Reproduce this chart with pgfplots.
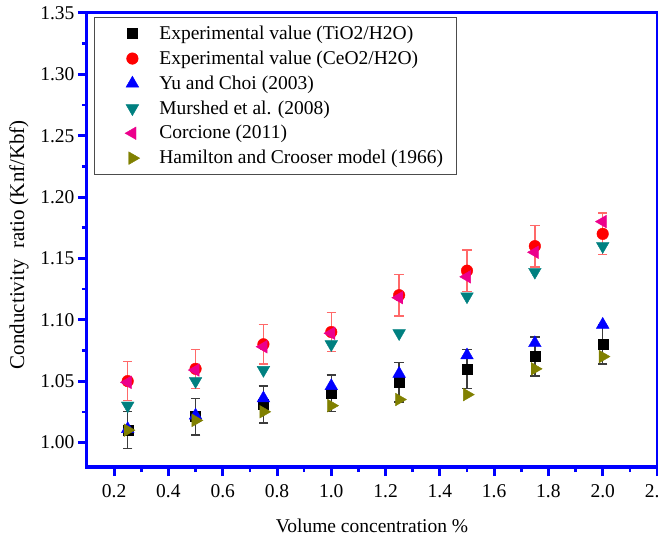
\documentclass[border=0pt]{standalone}
\usepackage{fontspec}
\setmainfont{Liberation Serif}
\usepackage{pgfplots}
\pgfplotsset{compat=1.18}

\definecolor{axisblue}{RGB}{0,0,255}
\definecolor{mteal}{RGB}{0,128,128}
\definecolor{molive}{RGB}{128,128,0}
\definecolor{errred}{RGB}{255,105,105}
\definecolor{errgray}{RGB}{60,60,60}

% measured thermal conductivity ratios: x, ratio, error
\pgfplotstableread{
x     y      e
0.25  1.010  0.015
0.50  1.021  0.015
0.75  1.031  0.015
1.00  1.040  0.015
1.25  1.049  0.016
1.50  1.060  0.016
1.75  1.070  0.016
2.00  1.080  0.016
}\tiotable
\pgfplotstableread{
x     y      e
0.25  1.050  0.016
0.50  1.060  0.016
0.75  1.080  0.016
1.00  1.090  0.016
1.25  1.120  0.017
1.50  1.140  0.017
1.75  1.160  0.017
2.00  1.170  0.017
}\ceotable
% model predictions
\pgfplotstableread{
x     yu     mu     co     ha
0.25  1.011  1.030  1.049  1.010
0.50  1.022  1.050  1.059  1.018
0.75  1.036  1.059  1.078  1.025
1.00  1.046  1.080  1.089  1.030
1.25  1.056  1.089  1.118  1.035
1.50  1.071  1.119  1.135  1.039
1.75  1.081  1.139  1.155  1.060
2.00  1.096  1.160  1.180  1.070
}\modeltable

\pgfplotsset{
  mk/.style={only marks,
    legend image code/.code={\path[draw=none] (0bp,0bp) -- (52bp,0bp);
      \path[##1, draw=none] plot[only marks] coordinates {(25bp,0bp)};}},
}

\begin{document}
\begin{tikzpicture}
\begin{axis}[
  scale only axis, width=570bp, height=454bp,
  xmin=0.1, xmax=2.2, ymin=0.98, ymax=1.35,
  font=\fontsize{19.5bp}{23bp}\selectfont,
  axis line style={axisblue, line width=3bp},
  tick align=outside, tick pos=left,
  major tick length=9bp, minor tick length=5bp,
  major tick style={axisblue, line width=3bp},
  minor tick style={axisblue, line width=2.5bp},
  xtick={0.2,0.4,0.6,0.8,1.0,1.2,1.4,1.6,1.8,2.0,2.2},
  ytick={1.00,1.05,1.10,1.15,1.20,1.25,1.30,1.35},
  minor x tick num=1, minor y tick num=1,
  /pgf/number format/assume math mode=true,
  xticklabel style={yshift=-5bp, /pgf/number format/.cd, fixed, fixed zerofill, precision=1},
  yticklabel style={/pgf/number format/.cd, fixed, fixed zerofill, precision=2},
  xlabel={Volume concentration \%},
  ylabel={Conductivity\ \ ratio (Knf/Kbf)},
  xlabel style={at={(axis description cs:0.5,-0.1289)}, anchor=center},
  ylabel style={at={(axis description cs:-0.1193,0.49)}, anchor=center,
    font=\fontsize{21bp}{24bp}\selectfont},
  legend cell align=left,
  legend style={draw=black!70, line width=0.8bp, fill=white,
    at={(axis description cs:0,1)}, anchor=north west,
    xshift=7bp, yshift=-4bp,
    inner xsep=13bp, inner ysep=6.5bp, row sep=5.4bp,
    nodes={inner sep=0bp, text height=15.5bp, text depth=4bp}},
]
\addplot[mk, mark=square*, mark size=5bp, black,
  mark options={fill=black, draw=black, line width=0.4bp},
  error bars/.cd, y dir=both, y explicit,
  error bar style={errgray, line width=1.4bp},
  error mark options={errgray, line width=1.4bp, mark size=4.7bp, rotate=90}]
  table[x=x, y=y, y error=e] {\tiotable};
\addlegendentry{Experimental value (TiO2/H2O)}

\addplot[mk, mark=*, mark size=5.8bp, red,
  mark options={fill=red, draw=red, line width=0.4bp},
  error bars/.cd, y dir=both, y explicit,
  error bar style={errred, line width=1.4bp},
  error mark options={errred, line width=1.4bp, mark size=4.7bp, rotate=90}]
  table[x=x, y=y, y error=e] {\ceotable};
\addlegendentry{Experimental value (CeO2/H2O)}

\addplot[mk, mark=triangle*, mark size=7.3bp, blue,
  mark options={fill=blue, draw=blue, line width=0.4bp}]
  table[x=x, y=yu] {\modeltable};
\addlegendentry{Yu and Choi (2003)}

\addplot[mk, mark=triangle*, mark size=7.3bp, mteal,
  mark options={fill=mteal, draw=mteal, line width=0.4bp, rotate=180}]
  table[x=x, y=mu] {\modeltable};
\addlegendentry{Murshed et al. (2008)}

\addplot[mk, mark=triangle*, mark size=7.3bp, magenta,
  mark options={fill=magenta, draw=magenta, line width=0.4bp, rotate=90}]
  table[x=x, y=co] {\modeltable};
\addlegendentry{Corcione (2011)}

\addplot[mk, mark=triangle*, mark size=7.3bp, molive,
  mark options={fill=molive, draw=molive, line width=0.4bp, rotate=-90}]
  table[x=x, y=ha] {\modeltable};
\addlegendentry{Hamilton and Crooser model (1966)}
\end{axis}
\pgfresetboundingbox
\path[use as bounding box] ([xshift=-87bp,yshift=-70bp]current axis.south west) rectangle ++(658bp,537bp);
\end{tikzpicture}
\end{document}
